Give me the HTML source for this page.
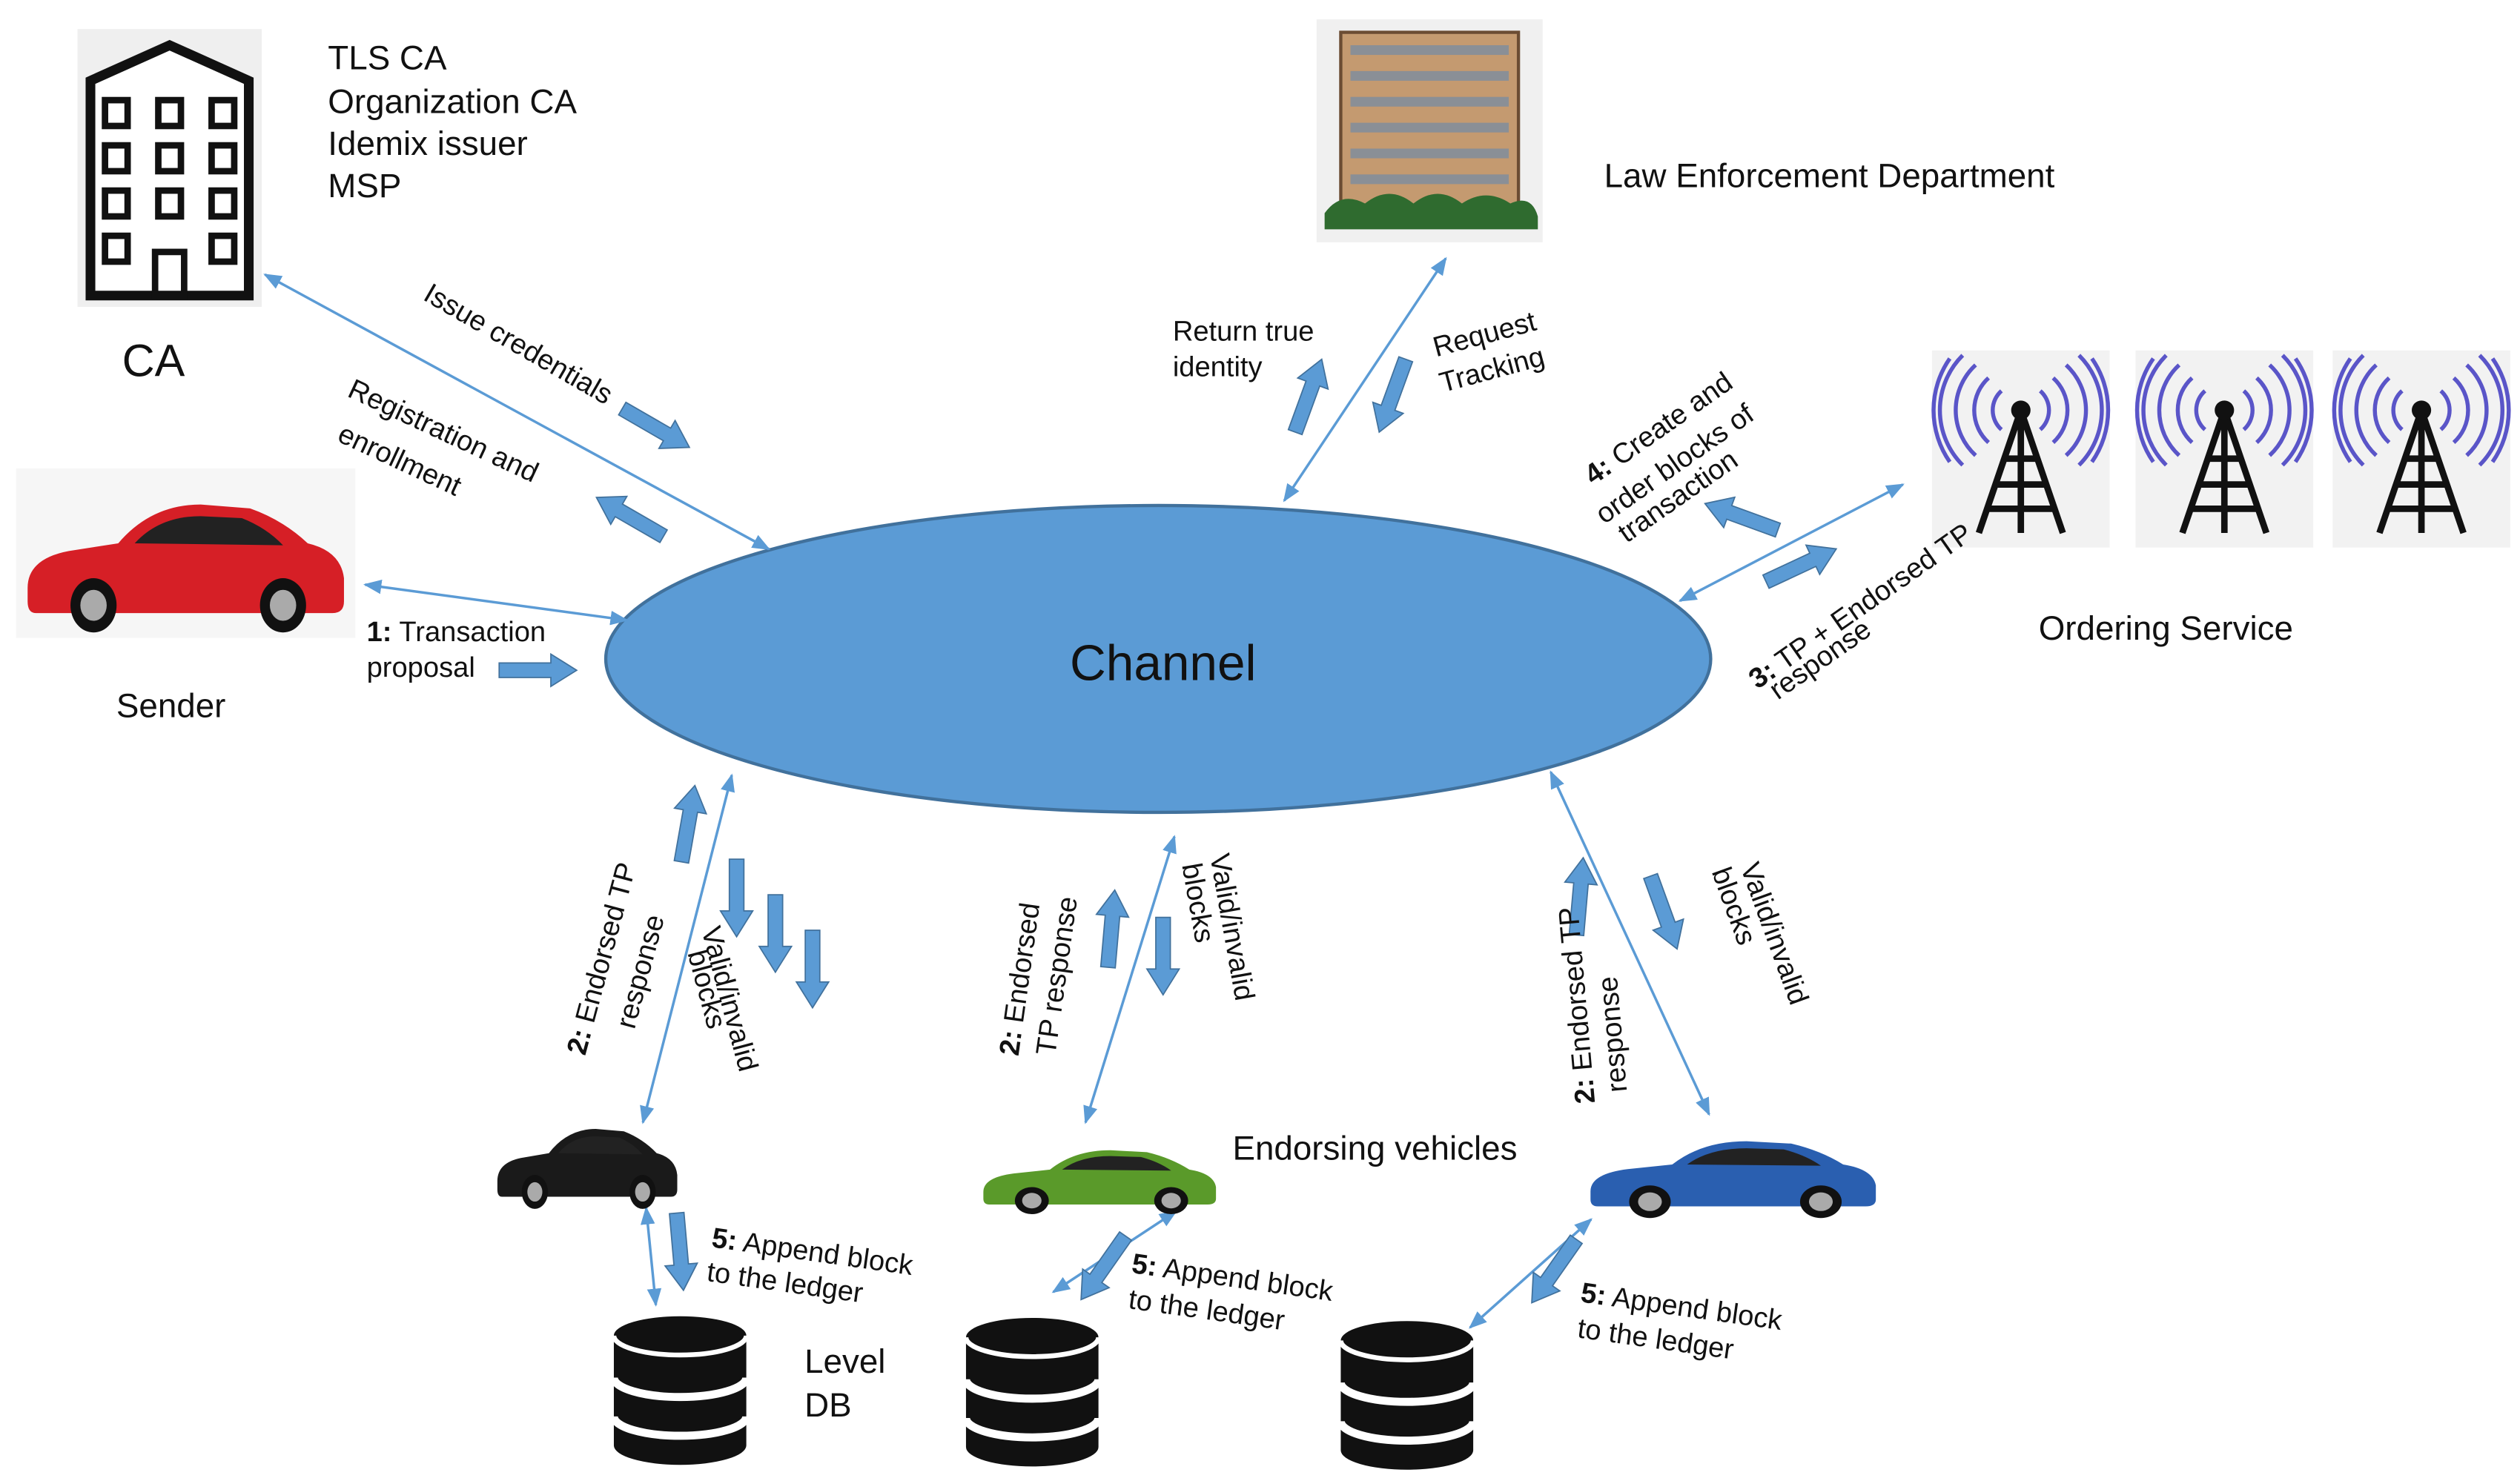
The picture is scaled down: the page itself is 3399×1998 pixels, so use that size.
<!DOCTYPE html>
<html><head><meta charset="utf-8"><style>
html,body{margin:0;padding:0;background:#fff;}
svg{display:block;}
text{font-family:"Liberation Sans",sans-serif;fill:#111;}
</style></head><body>
<svg width="3399" height="1998" viewBox="0 0 1560 917" xmlns="http://www.w3.org/2000/svg">
<defs>
<path id="ba" d="M-24,-4.5 L8,-4.5 L8,-10 L24,0 L8,10 L8,4.5 L-24,4.5 Z" fill="#5B9BD5" stroke="#41719C" stroke-width="0.8"/>
<marker id="ah" viewBox="0 0 10 10" refX="9" refY="5" markerWidth="7" markerHeight="7" orient="auto-start-reverse"><path d="M0,1 L10,5 L0,9 Z" fill="#5B9BD5"/></marker>
<g id="car">
<path d="M5,55 Q5,40 30,36 L60,32 Q80,12 110,12 L140,14 Q160,20 175,32 Q195,36 197,50 L197,62 Q197,68 190,68 L10,68 Q5,68 5,62 Z"/>
<path d="M70,32 Q85,18 110,18 L135,19 Q150,24 160,33 Z" fill="#222"/>
<circle cx="45" cy="64" r="14" fill="#111"/><circle cx="45" cy="64" r="8" fill="#aaa"/>
<circle cx="160" cy="64" r="14" fill="#111"/><circle cx="160" cy="64" r="8" fill="#aaa"/>
</g>
<g id="tower">
<rect x="-55" y="-35" width="110" height="122" fill="#f2f2f2"/>
<g fill="none" stroke="#5a55c8" stroke-width="2.5">
<path d="M-12,-10 A16,16 0 0 0 -12,14 M12,-10 A16,16 0 0 1 12,14"/>
<path d="M-20,-18 A27,27 0 0 0 -20,22 M20,-18 A27,27 0 0 1 20,22"/>
<path d="M-28,-26 A38,38 0 0 0 -28,30 M28,-26 A38,38 0 0 1 28,30"/>
<path d="M-36,-32 A48,48 0 0 0 -36,36 M36,-32 A48,48 0 0 1 36,36"/>
<path d="M-44,-30 A56,56 0 0 0 -44,34 M44,-30 A56,56 0 0 1 44,34"/>
</g>
<g stroke="#111" stroke-width="4" fill="none">
<path d="M0,2 L-26,78 M0,2 L26,78 M-10,32 L10,32 M-15,48 L15,48 M-20,63 L20,63 M0,2 L0,78"/>
</g>
<circle cx="0" cy="2" r="6" fill="#111"/>
</g>
<g id="db">
<path d="M0,12 A41,12 0 0 1 82,12 L82,80 A41,12 0 0 1 0,80 Z" fill="#111"/>
<path d="M0,12 A41,12 0 0 0 82,12" fill="none" stroke="#fff" stroke-width="3"/>
<path d="M0,38 A41,12 0 0 0 82,38" fill="none" stroke="#fff" stroke-width="5"/>
<path d="M0,62 A41,12 0 0 0 82,62" fill="none" stroke="#fff" stroke-width="5"/>
</g>
</defs>

<!-- CA building -->
<rect x="48" y="18" width="114" height="172" fill="#efefef"/>
<path d="M56,50 L105,28 L154,50 L154,183 L56,183 Z" fill="#fff" stroke="#111" stroke-width="6"/>
<g fill="none" stroke="#111" stroke-width="4">
<rect x="65" y="62" width="14" height="16"/><rect x="98" y="62" width="14" height="16"/><rect x="131" y="62" width="14" height="16"/>
<rect x="65" y="90" width="14" height="16"/><rect x="98" y="90" width="14" height="16"/><rect x="131" y="90" width="14" height="16"/>
<rect x="65" y="118" width="14" height="16"/><rect x="98" y="118" width="14" height="16"/><rect x="131" y="118" width="14" height="16"/>
<rect x="65" y="146" width="14" height="16"/><rect x="131" y="146" width="14" height="16"/>
<rect x="96" y="156" width="18" height="27"/>
</g>
<text x="95" y="233" font-size="28" text-anchor="middle">CA</text>
<text x="203" y="43" font-size="21">TLS CA</text>
<text x="203" y="70" font-size="21">Organization CA</text>
<text x="203" y="96" font-size="21">Idemix issuer</text>
<text x="203" y="122" font-size="21">MSP</text>

<!-- Law building -->
<rect x="815" y="12" width="140" height="138" fill="#f0f0f0"/>
<rect x="830" y="20" width="110" height="110" fill="#c49a70" stroke="#6b4c33" stroke-width="2"/>
<g fill="#8a8f96">
<rect x="836" y="28" width="98" height="6"/><rect x="836" y="44" width="98" height="6"/><rect x="836" y="60" width="98" height="6"/>
<rect x="836" y="76" width="98" height="6"/><rect x="836" y="92" width="98" height="6"/><rect x="836" y="108" width="98" height="6"/>
</g>
<path d="M820,132 Q830,118 845,126 Q860,114 875,126 Q890,114 905,126 Q920,116 935,126 Q948,120 952,134 L952,142 L820,142 Z" fill="#2f6b2f"/>
<text x="993" y="116" font-size="21">Law Enforcement Department</text>

<!-- Towers -->
<use href="#tower" transform="translate(1251,252)"/>
<use href="#tower" transform="translate(1377,252)"/>
<use href="#tower" transform="translate(1499,252)"/>
<text x="1262" y="396" font-size="21">Ordering Service</text>

<!-- Sender car -->
<rect x="10" y="290" width="210" height="105" fill="#f6f6f6"/>
<use href="#car" fill="#d61f26" transform="translate(12,298) scale(1.02,1.2)"/>
<text x="72" y="444" font-size="21">Sender</text>

<!-- Channel -->
<ellipse cx="717" cy="408" rx="342" ry="95" fill="#5B9BD5" stroke="#41719C" stroke-width="2"/>
<text x="720" y="421" font-size="31" text-anchor="middle">Channel</text>

<!-- thin double arrows -->
<g stroke="#5B9BD5" stroke-width="1.6" fill="none" marker-start="url(#ah)" marker-end="url(#ah)">
<line x1="164" y1="170" x2="476" y2="340"/>
<line x1="226" y1="362" x2="388" y2="384"/>
<line x1="895" y1="160" x2="795" y2="310"/>
<line x1="1178" y1="300" x2="1040" y2="372"/>
<line x1="453" y1="480" x2="398" y2="695"/>
<line x1="727" y1="518" x2="672" y2="695"/>
<line x1="960" y1="478" x2="1058" y2="690"/>
<line x1="400" y1="748" x2="406" y2="808"/>
<line x1="652" y1="800" x2="728" y2="750"/>
<line x1="910" y1="822" x2="985" y2="755"/>
</g>

<!-- block arrows -->
<use href="#ba" transform="translate(406,265) rotate(30)"/>
<use href="#ba" transform="translate(390,320) rotate(210)"/>
<use href="#ba" transform="translate(333,415)"/>
<use href="#ba" transform="translate(810,245) rotate(-70)"/>
<use href="#ba" transform="translate(862,245) rotate(110)"/>
<use href="#ba" transform="translate(1078,320) rotate(200)"/>
<use href="#ba" transform="translate(1115,350) rotate(-25)"/>
<use href="#ba" transform="translate(426,510) rotate(-80)"/>
<use href="#ba" transform="translate(456,556) rotate(90)"/>
<use href="#ba" transform="translate(480,578) rotate(90)"/>
<use href="#ba" transform="translate(503,600) rotate(90)"/>
<use href="#ba" transform="translate(688,575) rotate(-85)"/>
<use href="#ba" transform="translate(720,592) rotate(90)"/>
<use href="#ba" transform="translate(978,555) rotate(-85)"/>
<use href="#ba" transform="translate(1030,565) rotate(70)"/>
<use href="#ba" transform="translate(421,775) rotate(85)"/>
<use href="#ba" transform="translate(683,785) rotate(125)"/>
<use href="#ba" transform="translate(962,787) rotate(125)"/>

<!-- labels -->
<g font-size="17.5">
<text transform="translate(318,218) rotate(30)" text-anchor="middle">Issue credentials</text>
<text transform="translate(272,272) rotate(25)" text-anchor="middle">Registration and</text>
<text transform="translate(245,290) rotate(25)" text-anchor="middle">enrollment</text>
<text x="227" y="397"><tspan font-weight="bold">1:</tspan> Transaction</text>
<text x="227" y="419">proposal</text>
<text x="726" y="211">Return true</text>
<text x="726" y="233">identity</text>
<text transform="translate(889,221) rotate(-15)">Request</text>
<text transform="translate(893,243) rotate(-15)">Tracking</text>
<text transform="translate(1030,270) rotate(-35)" text-anchor="middle"><tspan font-weight="bold">4:</tspan> Create and</text>
<text transform="translate(1040,292) rotate(-35)" text-anchor="middle">order blocks of</text>
<text transform="translate(1042,312) rotate(-35)" text-anchor="middle">transaction</text>
<text transform="translate(1155,380) rotate(-35)" text-anchor="middle"><tspan font-weight="bold">3:</tspan> TP + Endorsed TP</text>
<text transform="translate(1130,413) rotate(-35)" text-anchor="middle">response</text>
<text transform="translate(378,595) rotate(-75)" text-anchor="middle"><tspan font-weight="bold">2:</tspan> Endorsed TP</text>
<text transform="translate(402,603) rotate(-75)" text-anchor="middle">response</text>
<text transform="translate(446,620) rotate(75)" text-anchor="middle">Valid/invalid</text>
<text transform="translate(432,614) rotate(75)" text-anchor="middle">blocks</text>
<text transform="translate(637,607) rotate(-82)" text-anchor="middle"><tspan font-weight="bold">2:</tspan> Endorsed</text>
<text transform="translate(660,605) rotate(-82)" text-anchor="middle">TP response</text>
<text transform="translate(757,575) rotate(80)" text-anchor="middle">Valid/invalid</text>
<text transform="translate(736,560) rotate(80)" text-anchor="middle">blocks</text>
<text transform="translate(982,622) rotate(-95)" text-anchor="middle"><tspan font-weight="bold">2:</tspan> Endorsed TP</text>
<text transform="translate(1004,640) rotate(-95)" text-anchor="middle">response</text>
<text transform="translate(1093,580) rotate(70)" text-anchor="middle">Valid/invalid</text>
<text transform="translate(1068,563) rotate(70)" text-anchor="middle">blocks</text>
<text transform="translate(440,772) rotate(8)"><tspan font-weight="bold">5:</tspan> Append block</text>
<text transform="translate(437,793) rotate(8)">to the ledger</text>
<text transform="translate(700,788) rotate(8)"><tspan font-weight="bold">5:</tspan> Append block</text>
<text transform="translate(698,810) rotate(8)">to the ledger</text>
<text transform="translate(978,806) rotate(8)"><tspan font-weight="bold">5:</tspan> Append block</text>
<text transform="translate(976,828) rotate(8)">to the ledger</text>
</g>

<!-- bottom cars -->
<use href="#car" fill="#1a1a1a" transform="translate(305,690) scale(0.58,0.75)"/>
<use href="#car" fill="#5a9a2a" transform="translate(605,705) scale(0.75,0.6)"/>
<use href="#car" fill="#2a5fb0" transform="translate(980,698) scale(0.92,0.72)"/>
<text x="763" y="718" font-size="21">Endorsing vehicles</text>

<!-- databases -->
<use href="#db" transform="translate(380,815)"/>
<use href="#db" transform="translate(598,816)"/>
<use href="#db" transform="translate(830,818)"/>
<text x="498" y="850" font-size="21">Level</text>
<text x="498" y="877" font-size="21">DB</text>
</svg>
</body></html>
